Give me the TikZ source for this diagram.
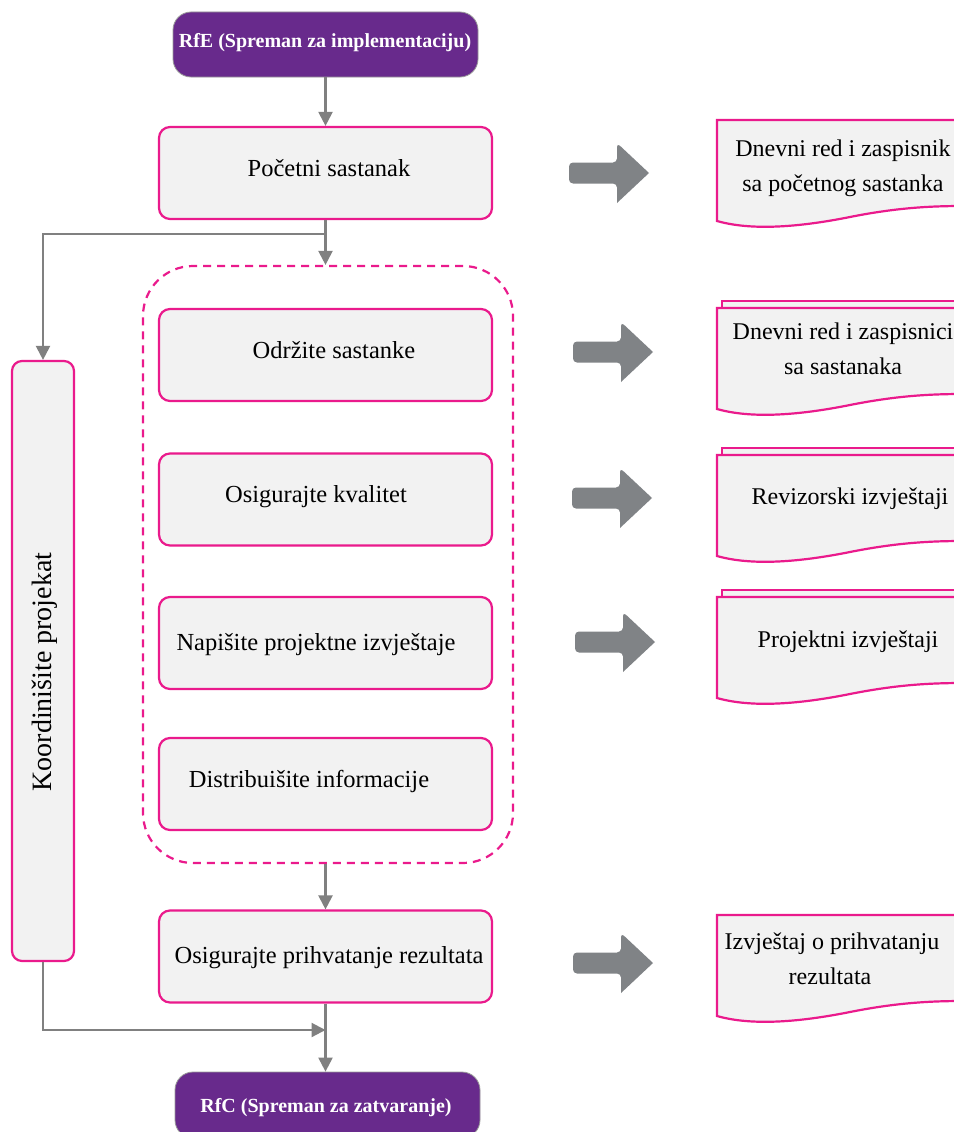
\documentclass[tikz,border=0pt]{standalone}
\usepackage{fontspec}
\setmainfont{Liberation Serif}
\usetikzlibrary{arrows.meta}
\definecolor{pinkline}{RGB}{234,26,140}
\definecolor{boxfill}{RGB}{242,242,242}
\definecolor{purplebox}{RGB}{104,42,140}
\definecolor{linkgray}{RGB}{128,128,128}
\definecolor{blockgray}{RGB}{128,131,134}

% one page of a document symbol, top edge at y=#1
\newcommand\docpage[1]{%
  \draw[docframe] (965,#1) -- (717,#1) -- (717,{#1+101})
    .. controls (752,{#1+111}) and (800,{#1+107}) .. (850,{#1+97})
    .. controls (900,{#1+87}) and (935,{#1+86}) .. (965,{#1+86});}
% sheet peeking out behind a stack of documents
\newcommand\docback[1]{%
  \draw[docframe] (965,#1) -- (722,#1) -- (722,{#1-7}) -- (965,{#1-7});}

\begin{document}
\begin{tikzpicture}[x=1pt,y=-1pt,
  stepbox/.style={draw=pinkline, line width=2.2pt, fill=boxfill,
    rounded corners=11pt, minimum width=333pt, minimum height=92pt, inner sep=0pt},
  endbox/.style={draw=gray!80, line width=0.8pt, fill=purplebox,
    rounded corners=18pt, inner sep=0pt},
  steptext/.style={font=\fontsize{24.5}{28}\selectfont, inner sep=0pt},
  endtext/.style={font=\fontsize{20}{23}\selectfont\bfseries, text=white, inner sep=0pt},
  doctext/.style={font=\fontsize{24}{35}\selectfont, align=center, inner sep=0pt},
  docframe/.style={draw=pinkline, line width=2.2pt, fill=boxfill},
  link/.style={draw=linkgray, line width=2.2pt, -{Triangle[length=14pt,width=14pt]}},
  blockarrow/.pic={\fill[blockgray, rounded corners=4pt]
    (0,-10.5) -- (48,-10.5) -- (48,-30) [sharp corners] -- (80,0) -- (48,30)
    [rounded corners=4pt] -- (48,10.5) -- (0,10.5) -- cycle;}]

\useasboundingbox[fill=white] (0,0) rectangle (953,1132);

% start and end states
\node[endbox, minimum width=305pt, minimum height=65pt] (rfe) at (325.5,44.5) {};
\node[endtext] (rfeT) at (325,43) {RfE (Spreman za implementaciju)};
\node[endbox, minimum width=305pt, minimum height=66pt] (rfc) at (327.5,1105) {};
\node[endtext] (rfcT) at (326,1108) {RfC (Spreman za zatvaranje)};

% main process steps
\node[stepbox] (kick) at (325.5,173) {};
\node[steptext] (kickT) at (329,168) {Početni sastanak};

\node[draw=pinkline, line width=2.2pt, dash pattern=on 8pt off 6pt,
  rounded corners=50pt, minimum width=370pt, minimum height=597pt] (group) at (328,564.5) {};

\node[stepbox] (meet) at (325.5,355) {};
\node[steptext] (meetT) at (334,350) {Održite sastanke};
\node[stepbox] (qual) at (325.5,499.5) {};
\node[steptext] (qualT) at (316,497) {Osigurajte kvalitet};
\node[stepbox] (rep) at (325.5,643) {};
\node[steptext] (repT) at (316,645) {Napišite projektne izvještaje};
\node[stepbox] (dist) at (325.5,784) {};
\node[steptext] (distT) at (309,781) {Distribuišite informacije};
\node[stepbox] (acc) at (325.5,956.5) {};
\node[steptext] (accT) at (329,958) {Osigurajte prihvatanje rezultata};

% coordination lane
\node[stepbox, minimum width=62pt, minimum height=600pt, rounded corners=10pt] (coord) at (43,661) {};
\node[steptext, font=\fontsize{28}{32}\selectfont, rotate=90] (coordT) at (45,672) {Koordinišite projekat};

% flow connectors
\coordinate (split) at (kick.south |- 0,234);
\coordinate (merge) at (kick.south |- 0,1030);
\draw[link] (kick.south) -- (kick.south |- group.north);
\draw[link] (split) -| (coord.north);
\draw[link] (rfe.south -| kick.north) -- (kick.north);
\draw[link] (acc.south |- group.south) -- (acc.north);
\draw[link] (acc.south) -- (acc.south |- rfc.north);
\draw[link] (coord.south) |- (merge);

% outputs of the steps
\pic at (569,173) {blockarrow};
\pic at (573,352) {blockarrow};
\pic at (572,498) {blockarrow};
\pic at (575,642) {blockarrow};
\pic at (573,963) {blockarrow};

\docpage{120}
\node[doctext] (d1) at (843,168) {Dnevni red i zaspisnik\\sa početnog sastanka};

\docback{308}
\docpage{308}
\node[doctext] (d2) at (843,349) {Dnevni red i zaspisnici\\sa sastanaka};

\docback{455}
\docpage{455}
\node[doctext] (d3) at (850,499) {Revizorski izvještaji};

\docback{597}
\docpage{597}
\node[doctext] (d4) at (848,642) {Projektni izvještaji};

\docpage{915}
\node[doctext, align=left] (d5) at (832,959) {Izvještaj o prihvatanju\\\hspace*{64pt}rezultata};
\end{tikzpicture}
\end{document}
